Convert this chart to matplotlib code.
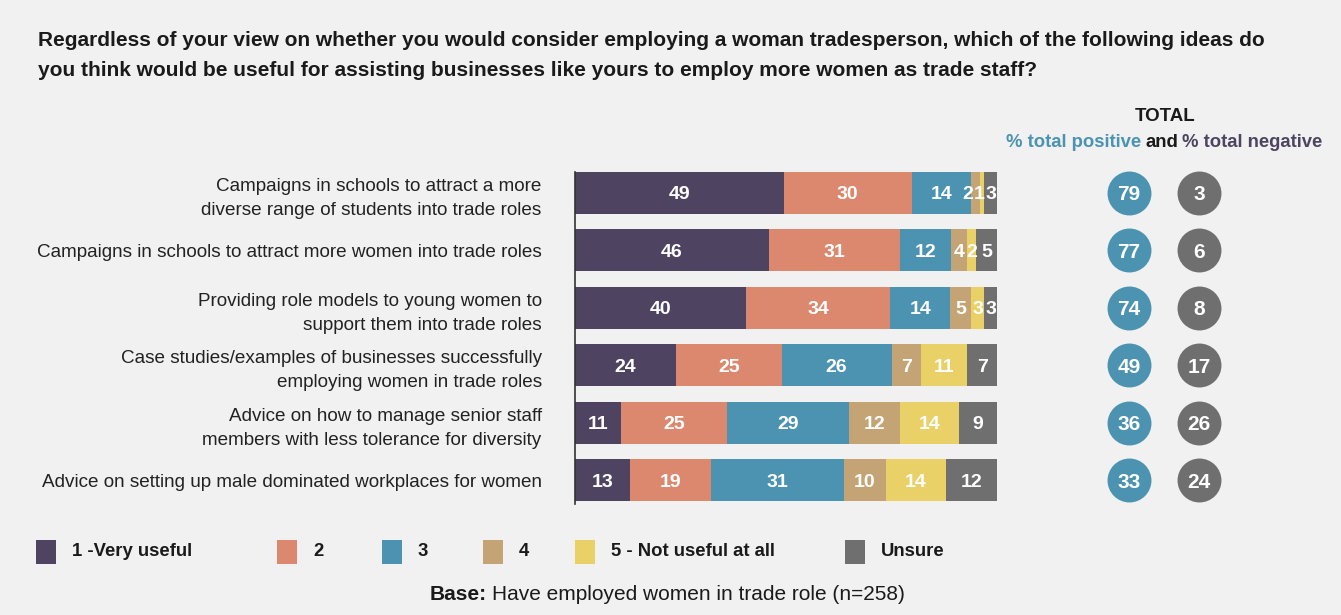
import numpy as np
import matplotlib.pyplot as plt
from matplotlib.patches import Rectangle

# Survey results (% of respondents)
categories = [
    "Campaigns in schools to attract a more\ndiverse range of students into trade roles",
    "Campaigns in schools to attract more women into trade roles",
    "Providing role models to young women to\nsupport them into trade roles",
    "Case studies/examples of businesses successfully\nemploying women in trade roles",
    "Advice on how to manage senior staff\nmembers with less tolerance for diversity",
    "Advice on setting up male dominated workplaces for women",
]
very_useful = [49, 46, 40, 24, 11, 13]
score_2 = [30, 31, 34, 25, 25, 19]
score_3 = [14, 12, 14, 26, 29, 31]
score_4 = [2, 4, 5, 7, 12, 10]
not_useful = [1, 2, 3, 11, 14, 14]
unsure = [3, 5, 3, 7, 9, 12]
total_positive = [79, 77, 74, 49, 36, 33]
total_negative = [3, 6, 8, 17, 26, 24]

legend_labels = ["1 -Very useful", "2", "3", "4", "5 - Not useful at all", "Unsure"]
colors = ["#4e4462", "#db886e", "#4b93b0", "#c4a474", "#e9d167", "#6f6f70"]
bg = "#f0f1f0"
ink = "#1a1a1a"

plt.rcParams['font.family'] = ['Liberation Sans', 'DejaVu Sans']

W, H = 1341, 615
fig = plt.figure(figsize=(W / 100, H / 100), dpi=100, facecolor=bg)


def px(x, y):
    return x / W, 1 - y / H


# stacked bars
ax = fig.add_axes([575 / W, 1 - 509 / H, 422 / W, 345 / H])
ax.set_facecolor(bg)
series = np.array([very_useful, score_2, score_3, score_4, not_useful, unsure], dtype=float)
shares = series / series.sum(axis=0) * 100
y = np.arange(len(categories))
left = np.zeros(len(categories))
row_labels = [[] for _ in y]
for vals, shr, col in zip(series, shares, colors):
    ax.barh(y, shr, left=left, height=0.73, color=col, linewidth=0)
    for yi, v, l, s in zip(y, vals, left, shr):
        t = ax.text(l + s / 2, yi, f"{int(v)}", ha='center', va='center_baseline',
                    color='white', fontsize=14, fontweight='bold')
        row_labels[yi].append(t)
    left += shr

ax.set_xlim(0, 100)
ax.set_ylim(len(categories) - 0.5, -0.5)
ax.set_yticks(y)
ax.set_yticklabels(categories, fontsize=13.6, color='#222222', linespacing=1.55)
ax.tick_params(axis='y', length=0, pad=24)
ax.set_xticks([])
for side in ['top', 'right', 'bottom']:
    ax.spines[side].set_visible(False)
ax.spines['left'].set_color('#333333')
ax.spines['left'].set_linewidth(1.2)
ax.spines['left'].set_bounds(-0.365, 5.42)

# push apart labels of very thin segments so they sit side by side
fig.canvas.draw()
r = fig.canvas.get_renderer()
to_data = ax.transData.inverted()
for labels in row_labels:
    limit = ax.transData.transform((100, 0))[0] - 1
    for t in reversed(labels):
        e = t.get_window_extent(r)
        if e.x1 > limit:
            dx = e.x1 - limit
            x0 = to_data.transform((e.x0 + e.width / 2 - dx, 0))[0]
            t.set_x(x0)
            e = t.get_window_extent(r)
        limit = e.x0 - 0.5

# totals circles
ax2 = fig.add_axes([1000 / W, 1 - 509 / H, 341 / W, 345 / H])
ax2.set_xlim(1000, 1341)
ax2.set_ylim(len(categories) - 0.5, -0.5)
ax2.axis('off')
ax2.scatter([1129] * len(y), y, s=1000, color=colors[2], linewidths=0)
ax2.scatter([1199] * len(y), y, s=1000, color=colors[5], linewidths=0)
for yi, p, n in zip(y, total_positive, total_negative):
    ax2.text(1129, yi, str(p), ha='center', va='center_baseline', color='white',
             fontsize=15, fontweight='bold')
    ax2.text(1199, yi, str(n), ha='center', va='center_baseline', color='white',
             fontsize=15, fontweight='bold')

# title
fig.text(*px(38, 40),
         "Regardless of your view on whether you would consider employing a woman tradesperson, which of the following ideas do",
         fontsize=15, fontweight='bold', color=ink, va='center')
fig.text(*px(38, 70),
         "you think would be useful for assisting businesses like yours to employ more women as trade staff?",
         fontsize=15, fontweight='bold', color=ink, va='center')

# column header
fig.text(*px(1165, 117), "TOTAL", fontsize=13.5, fontweight='bold',
         color=ink, ha='center', va='center')
t1 = fig.text(*px(1006, 142), "% total positive", fontsize=13.3, fontweight='bold',
              color=colors[2], va='center')
t2 = fig.text(0, 0, "and", fontsize=13.3, fontweight='bold', color=ink, va='center')
t3 = fig.text(0, 0, "% total negative", fontsize=13.3, fontweight='bold',
              color=colors[0], va='center')
gap = 4
e1 = t1.get_window_extent(r)
t2.set_position(((e1.x1 + gap) / W, 1 - 142 / H))
e2 = t2.get_window_extent(r)
t3.set_position(((e2.x1 + gap) / W, 1 - 142 / H))

# legend
legend_x = [36, 277, 382, 483, 575, 845]
for lx, lab, col in zip(legend_x, legend_labels, colors):
    fig.patches.append(Rectangle(px(lx, 564), 20 / W, 24 / H, transform=fig.transFigure,
                                 color=col, linewidth=0))
    fig.text(*px(lx + 36, 552), lab, fontsize=13.3, fontweight='bold',
             color=ink, va='center')

# base note
b1 = fig.text(*px(430, 595), "Base:", fontsize=15, fontweight='bold',
              color=ink, va='center')
eb = b1.get_window_extent(r)
fig.text((eb.x1 + 5) / W, 1 - 595 / H, "Have employed women in trade role (n=258)",
         fontsize=15, color=ink, va='center')

fig.savefig("out.png", dpi=100, facecolor=bg)
